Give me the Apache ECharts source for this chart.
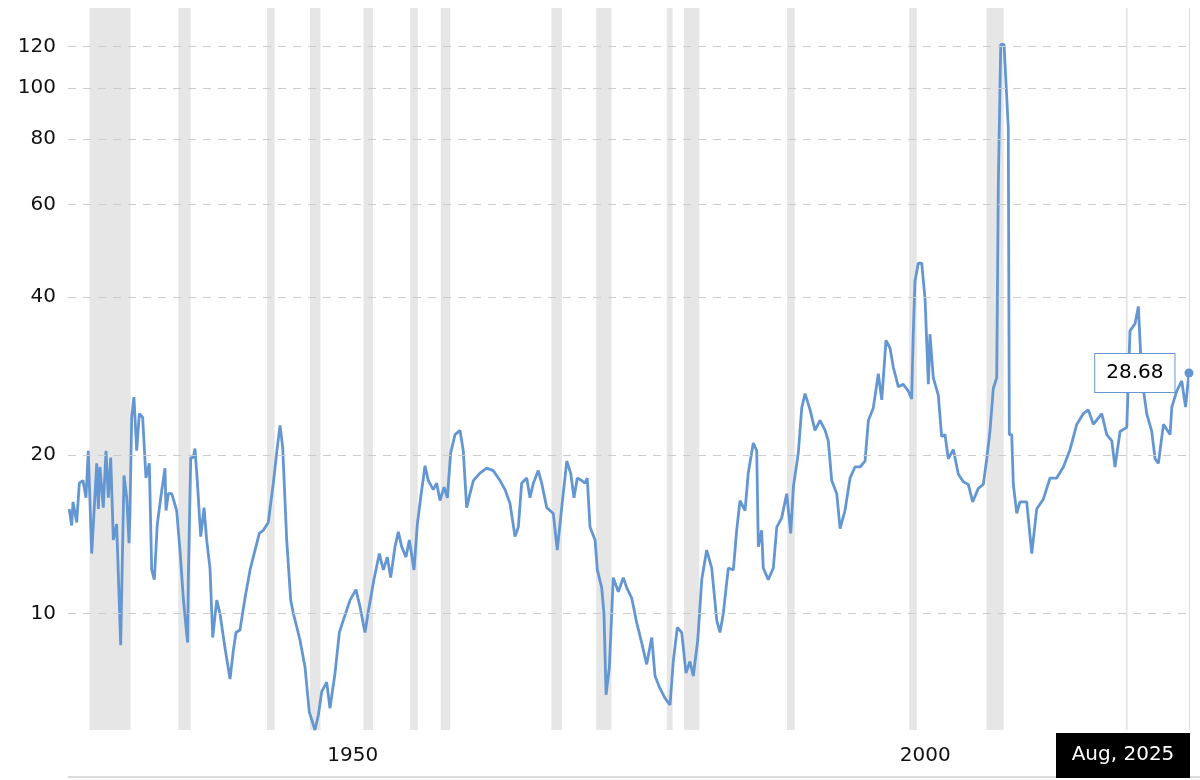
<!DOCTYPE html>
<html>
<head>
<meta charset="utf-8">
<script src="https://cdn.jsdelivr.net/npm/echarts@6/dist/echarts.min.js"></script>
<style>
  html, body { margin: 0; padding: 0; background: #fff; }
  #chart { width: 1200px; height: 780px; }
</style>
</head>
<body>
<div id="chart"></div>
<script>
// P/E ratio (decimal year, value)
const years = [
  1927.81, 1928.02, 1928.14, 1928.46, 1928.69, 1929.01, 1929.27, 1929.47, 1929.77, 1930.21,
  1930.35, 1930.49, 1930.78, 1931.02, 1931.22, 1931.43, 1931.66, 1931.95, 1932.30, 1932.59,
  1932.83, 1933.03, 1933.11, 1933.26, 1933.46, 1933.70, 1933.93, 1934.22, 1934.51, 1934.80,
  1935.01, 1935.24, 1935.50, 1935.80, 1936.17, 1936.26, 1936.46, 1936.76, 1937.19, 1937.48,
  1937.77, 1938.01, 1938.15, 1938.21, 1938.42, 1938.64, 1938.79, 1938.99, 1939.29, 1939.58,
  1939.81, 1940.10, 1940.34, 1940.69, 1940.97, 1941.41, 1941.85, 1942.14, 1942.37, 1942.72,
  1943.16, 1943.60, 1943.88, 1944.41, 1944.76, 1945.19, 1945.63, 1945.98, 1946.22, 1946.45,
  1946.80, 1947.15, 1947.38, 1947.96, 1948.40, 1948.77, 1949.27, 1949.56, 1949.86, 1950.29,
  1950.58, 1951.02, 1951.40, 1951.74, 1952.33, 1952.85, 1953.20, 1953.64, 1953.93, 1954.42,
  1954.89, 1955.24, 1955.59, 1955.88, 1956.26, 1956.55, 1956.84, 1957.22, 1957.51, 1957.92,
  1958.21, 1958.50, 1958.88, 1959.17, 1959.60, 1959.90, 1960.19, 1960.54, 1960.83, 1961.12,
  1961.50, 1961.94, 1962.22, 1962.52, 1962.81, 1963.10, 1963.68, 1964.27, 1964.84, 1965.43,
  1965.87, 1966.30, 1966.74, 1967.03, 1967.32, 1967.76, 1968.05, 1968.34, 1968.77, 1969.07,
  1969.51, 1970.08, 1970.43, 1970.82, 1971.26, 1971.60, 1971.89, 1972.18, 1972.57, 1972.85,
  1973.05, 1973.29, 1973.73, 1973.93, 1974.31, 1974.51, 1974.69, 1974.98, 1975.32, 1975.76,
  1976.20, 1976.49, 1976.93, 1977.37, 1977.80, 1978.24, 1978.68, 1978.97, 1979.40, 1979.84,
  1980.28, 1980.56, 1980.91, 1981.30, 1981.67, 1982.02, 1982.31, 1982.70, 1983.05, 1983.48,
  1983.92, 1984.36, 1984.64, 1984.93, 1985.37, 1985.81, 1986.10, 1986.39, 1986.83, 1987.11,
  1987.55, 1987.85, 1987.99, 1988.28, 1988.42, 1988.86, 1989.30, 1989.60, 1990.03, 1990.47,
  1990.82, 1991.05, 1991.48, 1991.78, 1992.07, 1992.51, 1992.94, 1993.38, 1993.82, 1994.10,
  1994.40, 1994.84, 1995.13, 1995.56, 1996.00, 1996.43, 1996.87, 1997.31, 1997.60, 1998.03,
  1998.47, 1998.77, 1999.14, 1999.49, 1999.78, 2000.22, 2000.65, 2001.09, 2001.38, 2001.52,
  2001.67, 2001.96, 2002.26, 2002.55, 2002.84, 2002.98, 2003.27, 2003.71, 2004.00, 2004.29,
  2004.58, 2005.02, 2005.46, 2005.89, 2006.33, 2006.71, 2007.20, 2007.64, 2007.94, 2008.22,
  2008.51, 2008.81, 2008.95, 2009.16, 2009.45, 2009.82, 2009.91, 2010.12, 2010.26, 2010.56,
  2010.84, 2011.43, 2011.87, 2012.30, 2012.88, 2013.47, 2014.05, 2014.63, 2015.21, 2015.80,
  2016.37, 2016.81, 2017.25, 2017.98, 2018.42, 2018.86, 2019.14, 2019.58, 2020.17, 2020.45,
  2020.89, 2021.18, 2021.48, 2021.91, 2022.35, 2022.64, 2022.93, 2023.37, 2023.95, 2024.10,
  2024.53, 2024.97, 2025.30, 2025.60
];
const pe = [
  15.8, 14.7, 16.3, 14.9, 17.7, 17.9, 16.6, 20.4, 13.0, 19.3,
  15.8, 19.0, 15.9, 20.4, 16.6, 19.8, 13.8, 14.8, 8.7, 18.3,
  16.6, 13.6, 15.5, 23.6, 25.8, 20.4, 24.0, 23.6, 18.1, 19.3,
  12.1, 11.6, 14.8, 16.6, 18.9, 15.7, 16.9, 16.9, 15.7, 13.2,
  10.7, 9.4, 8.8, 11.7, 19.8, 19.8, 20.6, 17.9, 14.0, 15.9,
  13.8, 12.2, 9.0, 10.6, 10.0, 8.6, 7.5, 8.5, 9.2, 9.3,
  10.7, 12.1, 12.8, 14.2, 14.4, 14.9, 17.7, 20.7, 22.8, 20.7,
  13.8, 10.6, 10.0, 8.9, 7.9, 6.5, 6.0, 6.4, 7.1, 7.4,
  6.6, 7.7, 9.2, 9.7, 10.6, 11.1, 10.3, 9.2, 10.1, 11.6,
  13.0, 12.1, 12.8, 11.7, 13.4, 14.3, 13.4, 12.8, 13.8, 12.1,
  14.8, 16.6, 19.1, 17.9, 17.2, 17.7, 16.4, 17.4, 16.6, 20.2,
  21.9, 22.3, 20.4, 15.9, 16.9, 17.9, 18.5, 18.9, 18.7, 17.9,
  17.2, 16.2, 14.0, 14.6, 17.7, 18.1, 16.6, 17.7, 18.7, 17.7,
  15.9, 15.5, 13.2, 15.9, 19.5, 18.5, 16.6, 18.1, 17.9, 17.7,
  18.1, 14.6, 13.8, 12.1, 11.2, 10.0, 7.0, 7.9, 11.7, 11.0,
  11.7, 11.2, 10.7, 9.6, 8.8, 8.0, 9.0, 7.6, 7.2, 6.9,
  6.7, 8.1, 9.4, 9.2, 7.7, 8.1, 7.6, 8.9, 11.6, 13.2,
  12.2, 9.7, 9.2, 10.0, 12.2, 12.1, 14.4, 16.4, 15.7, 18.5,
  21.1, 20.4, 13.4, 14.4, 12.2, 11.6, 12.2, 14.6, 15.2, 16.9,
  14.2, 17.4, 20.2, 24.6, 26.2, 24.4, 22.3, 23.3, 22.3, 21.3,
  17.9, 16.9, 14.5, 15.7, 18.1, 19.0, 19.0, 19.5, 23.3, 24.6,
  28.6, 25.5, 33.1, 32.0, 29.4, 27.0, 27.3, 26.5, 25.6, 34.0,
  42.9, 46.4, 46.4, 39.7, 27.3, 34.0, 28.1, 26.0, 21.7, 21.9,
  19.7, 20.5, 18.4, 17.8, 17.6, 16.3, 17.3, 17.6, 19.7, 22.2,
  26.8, 28.1, 65.6, 121, 121, 84, 21.9, 21.9, 17.6, 15.5,
  16.3, 16.3, 13.0, 15.8, 16.5, 18.1, 18.1, 19.0, 20.5, 22.9,
  24.0, 24.4, 22.9, 24.0, 21.9, 21.3, 19.0, 22.2, 22.6, 34.5,
  35.6, 38.4, 28.1, 24.0, 22.2, 19.7, 19.3, 22.9, 21.9, 24.7,
  26.5, 27.7, 24.7, 28.68
];
// recessions (start, end) as year-month
const recessionStart = ['1929-08', '1937-05', '1945-02', '1948-11', '1953-07', '1957-08', '1960-04',
  '1969-12', '1973-11', '1980-01', '1981-07', '1990-07', '2001-03', '2007-12', '2020-02'];
const recessionEnd = ['1933-03', '1938-06', '1945-10', '1949-10', '1954-05', '1958-04', '1961-02',
  '1970-11', '1975-03', '1980-07', '1982-11', '1991-03', '2001-11', '2009-06', '2020-04'];
const yTicks = [10, 20, 40, 60, 80, 100, 120];
const xLabelYears = [1950, 2000];

const lineColor = '#6497d2';
const font = 'DejaVu Sans';

function ymToYear(s) {
    const [y, m] = s.split('-').map(Number);
    return y + (m - 1) / 12;
}

const seriesData = years.map((y, i) => [y, pe[i]]);
const lastPoint = seriesData[seriesData.length - 1];

const areas = recessionStart.map((s, i) => [
    { xAxis: ymToYear(s) },
    { xAxis: ymToYear(recessionEnd[i]) }
]);

const gridLines = yTicks.map(v => ({ yAxis: v }));
gridLines.push({
    xAxis: lastPoint[0],
    label: { show: false },
    lineStyle: { type: 'solid', color: '#dcdcdc', width: 1 }
});

const chart = echarts.init(document.getElementById('chart'), null, { renderer: 'canvas' });
chart.setOption({
    animation: false,
    backgroundColor: '#fff',
    grid: { left: 68, right: 10, top: 8, bottom: 50 },
    xAxis: {
        type: 'value',
        min: 1927.7,
        max: 2025.69,
        axisLine: { show: false },
        axisTick: { show: false },
        splitLine: { show: false },
        axisLabel: {
            customValues: xLabelYears,
            formatter: (val) => String(Math.round(val)),
            align: 'left',
            padding: [0, 0, 0, 4],
            margin: 16,
            fontFamily: font,
            fontSize: 20,
            color: '#111'
        }
    },
    yAxis: {
        type: 'log',
        min: 6,
        max: 142,
        axisLine: { show: false },
        axisTick: { show: false },
        axisLabel: { show: false },
        splitLine: { show: false }
    },
    series: [{
        type: 'line',
        data: seriesData,
        showSymbol: false,
        lineStyle: { color: lineColor, width: 2.8 },
        itemStyle: { color: lineColor },
        markArea: {
            silent: true,
            itemStyle: { color: '#e6e6e6' },
            data: areas
        },
        markLine: {
            silent: true,
            symbol: 'none',
            lineStyle: { type: [8, 7], color: '#cccccc', width: 1 },
            label: {
                position: 'start',
                distance: 12,
                formatter: (p) => String(p.value),
                fontFamily: font,
                fontSize: 20,
                color: '#111'
            },
            data: gridLines
        },
        markPoint: {
            silent: true,
            symbol: 'circle',
            symbolSize: 9,
            itemStyle: { color: lineColor },
            label: {
                position: 'left',
                distance: 10,
                formatter: '28.68',
                backgroundColor: '#fff',
                borderColor: lineColor,
                borderWidth: 1,
                padding: [9, 11],
                fontFamily: font,
                fontSize: 20,
                color: '#000'
            },
            data: [{ coord: lastPoint, value: lastPoint[1] }]
        }
    }],
    graphic: [
        { type: 'line', shape: { x1: 68, y1: 777, x2: 1200, y2: 777 }, style: { stroke: '#dcdcdc', lineWidth: 2 } },
        { type: 'rect', shape: { x: 1056, y: 733, width: 134, height: 45 }, style: { fill: '#000' } },
        {
            type: 'text', x: 1123, y: 755,
            style: { text: 'Aug, 2025', fill: '#fff', font: '20px "DejaVu Sans"', textAlign: 'center', textVerticalAlign: 'middle' }
        }
    ]
});
</script>
</body>
</html>
